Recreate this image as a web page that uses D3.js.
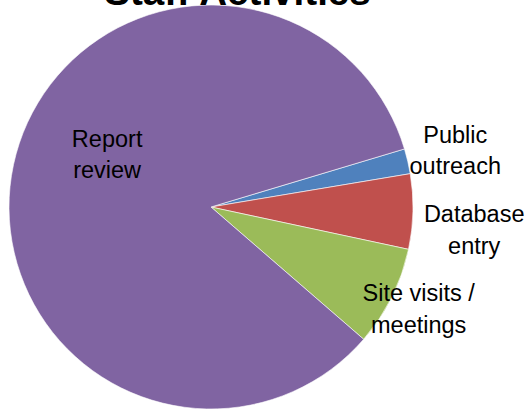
<!DOCTYPE html>
<html>
<head>
<meta charset="utf-8">
<script src="https://cdn.jsdelivr.net/npm/d3@7"></script>
<style>
  html, body { margin: 0; padding: 0; background: #ffffff; }
</style>
</head>
<body>
<div id="chart"></div>
<script>
/**
 * Data
 */
const categories = ["Public outreach", "Database entry", "Site visits / meetings", "Report review"];
const shares = [2, 6, 8, 84];
const labelLines = [["Public", "outreach"], ["Database", "entry"], ["Site visits /", "meetings"], ["Report", "review"]];
const sliceColors = ["#4f81bd", "#c0504d", "#9bbb59", "#8064a2"];
const chartTitle = "Staff Activities";

/**
 * Settings
 */
const width = 528;
const height = 409;
const cx = 211;
const cy = 207;
const radius = 202;
const firstSliceAngle = 73.3;
const lineHeight = 31.6;

// label placement: distance from centre and small angle nudge (degrees)
const labelRadius = [249, 265, 235, 113];
const labelNudge = [1.9, 5.4, 1.4, 11.1];

const svg = d3.select("#chart")
  .append("svg")
  .attr("width", width)
  .attr("height", height)
  .style("background", "#ffffff");

const rad = d => d * Math.PI / 180;

const pie = d3.pie()
  .sort(null)
  .value(d => d.value)
  .startAngle(rad(firstSliceAngle))
  .endAngle(rad(firstSliceAngle) + 2 * Math.PI);

const arcs = pie(categories.map((c, i) => ({ name: c, value: shares[i], i: i })));

const arc = d3.arc()
  .innerRadius(0)
  .outerRadius(radius);

const g = svg.append("g")
  .attr("transform", `translate(${cx}, ${cy})`);

/**
 * Slices
 */
g.selectAll("path")
  .data(arcs)
  .enter()
  .append("path")
  .attr("d", arc)
  .attr("fill", d => sliceColors[d.data.i])
  .attr("stroke", "#ffffff")
  .attr("stroke-width", 0.6);

/**
 * Labels
 */
const labels = g.selectAll(".slice-label")
  .data(arcs)
  .enter()
  .append("text")
  .attr("class", "slice-label")
  .attr("text-anchor", "middle")
  .attr("font-family", "'Liberation Sans', Arial, sans-serif")
  .attr("font-size", 23.5)
  .attr("fill", "#000000")
  .attr("transform", function(d) {
    const a = (d.startAngle + d.endAngle) / 2 + rad(labelNudge[d.data.i]);
    const r = labelRadius[d.data.i];
    return `translate(${Math.sin(a) * r}, ${-Math.cos(a) * r})`;
  });

labels.selectAll("tspan")
  .data(d => labelLines[d.data.i].map((t, k, arr) => ({ t: t, k: k, n: arr.length })))
  .enter()
  .append("tspan")
  .attr("x", 0)
  .attr("y", d => (d.k - (d.n - 1) / 2) * lineHeight)
  .text(d => d.t);

/**
 * Title
 */
svg.append("text")
  .attr("x", 237.5)
  .attr("y", 5)
  .attr("text-anchor", "middle")
  .attr("font-family", "'Liberation Sans', Arial, sans-serif")
  .attr("font-weight", "bold")
  .attr("font-size", 38.6)
  .attr("fill", "#000000")
  .text(chartTitle);
</script>
</body>
</html>
